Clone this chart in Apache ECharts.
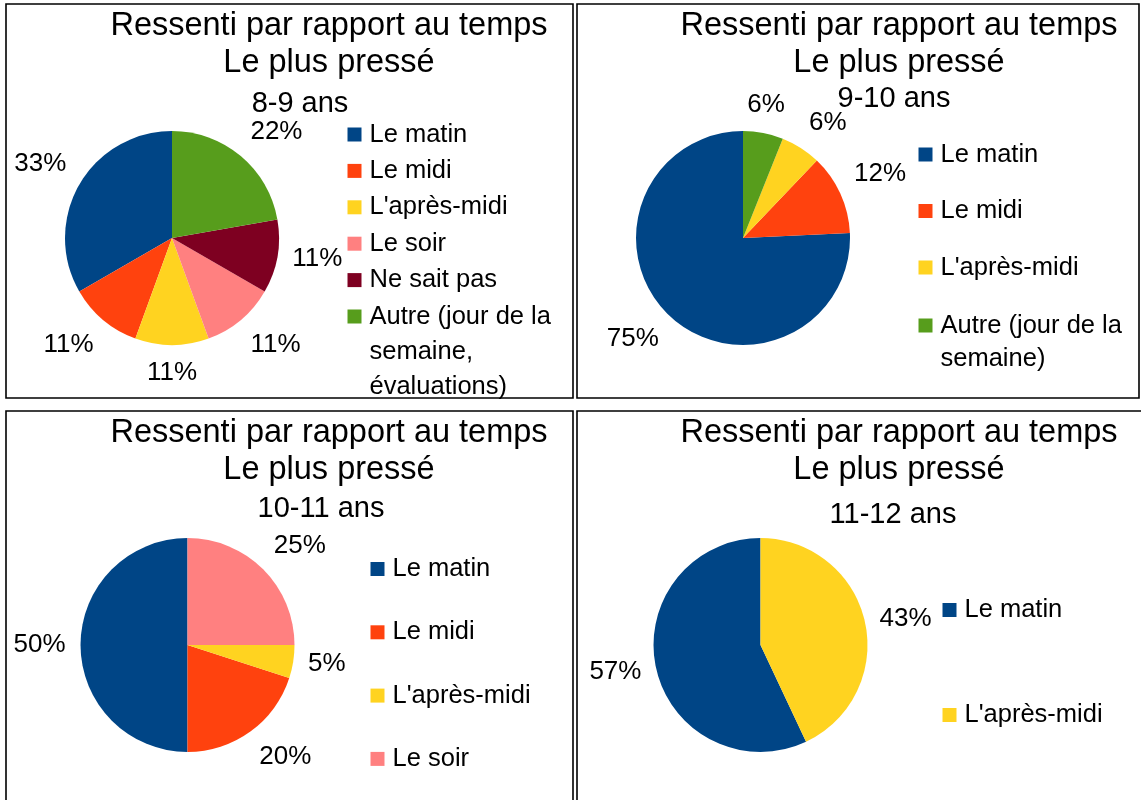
<!DOCTYPE html>
<html>
<head>
<meta charset="utf-8">
<title>Ressenti par rapport au temps</title>
<script src="https://cdn.jsdelivr.net/npm/echarts@6/dist/echarts.min.js"></script>
<style>
  html, body { margin: 0; padding: 0; background: #ffffff; }
  #chart { width: 1141px; height: 800px; }
</style>
</head>
<body>
<div id="chart"></div>
<script>
// ---- Data -------------------------------------------------------------
const titleLines = ['Ressenti par rapport au temps', 'Le plus pressé'];
const ageGroups = ['8-9 ans', '9-10 ans', '10-11 ans', '11-12 ans'];

const categories8to9 = ['Le matin', 'Le midi', "L'après-midi", 'Le soir', 'Ne sait pas',
  'Autre (jour de la semaine, évaluations)'];
const values8to9 = [33, 11, 11, 11, 11, 22];

const categories9to10 = ['Le matin', 'Le midi', "L'après-midi", 'Autre (jour de la semaine)'];
const values9to10 = [75, 12, 6, 6];

const categories10to11 = ['Le matin', 'Le midi', "L'après-midi", 'Le soir'];
const values10to11 = [50, 20, 5, 25];

const categories11to12 = ['Le matin', "L'après-midi"];
const values11to12 = [57, 43];

// ---- Styling ----------------------------------------------------------
const FONT = 'Liberation Sans, Arial, sans-serif';
const sliceColors = {
  'Le matin': '#004586',
  'Le midi': '#ff420e',
  "L'après-midi": '#ffd320',
  'Le soir': '#ff8080',
  'Ne sait pas': '#7e0021',
  'Autre (jour de la semaine, évaluations)': '#579d1c',
  'Autre (jour de la semaine)': '#579d1c'
};
// line breaks used for long legend entries
const legendWrap = {
  'Autre (jour de la semaine, évaluations)': ['Autre (jour de la', 'semaine,', 'évaluations)'],
  'Autre (jour de la semaine)': ['Autre (jour de la', 'semaine)']
};

const RADIUS = 107;
const LABEL_GAP = 15;
const KEY = 14;          // legend colour key size

// panel layout: frame, pie centre, title centre, subtitle position,
// legend left edge, first key centre, key spacing, text line height, wrapped key centre
const panels = [
  { cats: categories8to9, vals: values8to9, age: ageGroups[0],
    frame: [6, 4, 567, 394], center: [172, 238], titleX: 329, titleTop: 8,
    subX: 300, subY: 104,
    legendLeft: 347.5, keyY: 134.5, keyStep: 36.4, lineH: 35, wrapY: 316.5 },
  { cats: categories9to10, vals: values9to10, age: ageGroups[1],
    frame: [577, 4, 562, 394], center: [743, 238], titleX: 899, titleTop: 8,
    subX: 894, subY: 99,
    legendLeft: 918.5, keyY: 154.5, keyStep: 56.5, lineH: 33, wrapY: 325.5 },
  { cats: categories10to11, vals: values10to11, age: ageGroups[2],
    frame: [6, 411, 567, 400], center: [187.5, 645], titleX: 329, titleTop: 415,
    subX: 321, subY: 509,
    legendLeft: 370.5, keyY: 569, keyStep: 63.3, lineH: 35, wrapY: null },
  { cats: categories11to12, vals: values11to12, age: ageGroups[3],
    frame: [577, 411, 620, 400], center: [760.5, 645], titleX: 899, titleTop: 415,
    subX: 893, subY: 515,
    legendLeft: 942.5, keyY: 610, keyStep: 105, lineH: 35, wrapY: null }
];

// Places each percentage just outside its slice, the way office charts do:
// box centred above/below/beside the slice near the axes, corner-anchored otherwise.
function outsideLabel(panel) {
  const total = panel.vals.reduce((a, b) => a + b, 0);
  return function (p) {
    let before = 0;
    for (let k = 0; k < p.dataIndex; k++) before += panel.vals[k];
    const midDeg = 90 + (before + panel.vals[p.dataIndex] / 2) / total * 360;
    const a = ((midDeg % 360) + 360) % 360;
    const rad = midDeg * Math.PI / 180;
    const dx = Math.cos(rad), dy = -Math.sin(rad);
    let sx, sy;
    if (a <= 22.5 || a >= 337.5) { sx = 1; sy = 0; }
    else if (a >= 67.5 && a <= 112.5) { sx = 0; sy = -1; }
    else if (a >= 157.5 && a <= 202.5) { sx = -1; sy = 0; }
    else if (a >= 247.5 && a <= 292.5) { sx = 0; sy = 1; }
    else { sx = Math.sign(dx); sy = Math.sign(dy); }
    const R = RADIUS + LABEL_GAP;
    const w = p.labelRect.width, h = p.labelRect.height;
    return {
      x: panel.center[0] + dx * R + sx * w / 2,
      y: panel.center[1] + dy * R + sy * h / 2,
      align: 'center',
      verticalAlign: 'middle'
    };
  };
}

const titles = [];
const legends = [];
const series = [];
const frames = [];

panels.forEach(function (panel) {
  frames.push({
    type: 'rect',
    shape: { x: panel.frame[0], y: panel.frame[1], width: panel.frame[2], height: panel.frame[3] },
    style: { fill: 'none', stroke: '#000000', lineWidth: 1.6 },
    silent: true
  });

  titles.push({
    text: titleLines.join('\n'),
    left: panel.titleX, top: panel.titleTop,
    textAlign: 'center', textVerticalAlign: 'top', padding: 0,
    textStyle: { fontFamily: FONT, fontSize: 32.5, fontWeight: 'normal', color: '#000', lineHeight: 37 }
  });
  titles.push({
    text: panel.age,
    left: panel.subX, top: panel.subY,
    textAlign: 'center', textVerticalAlign: 'middle', padding: 0,
    textStyle: { fontFamily: FONT, fontSize: 29, fontWeight: 'normal', color: '#000' }
  });

  const plain = panel.cats.filter(c => !legendWrap[c]);
  const wrapped = panel.cats.filter(c => legendWrap[c]);
  const legendBase = {
    orient: 'vertical', padding: 0, icon: 'rect',
    itemWidth: KEY, itemHeight: KEY, selectedMode: false,
    textStyle: { fontFamily: FONT, fontSize: 25.5, color: '#000', lineHeight: panel.lineH, padding: [0, 0, 0, 3] }
  };
  legends.push(Object.assign({}, legendBase, {
    left: panel.legendLeft,
    top: panel.keyY - panel.lineH / 2,
    itemGap: panel.keyStep - panel.lineH,
    data: plain
  }));
  wrapped.forEach(function (name) {
    const lines = legendWrap[name];
    // blank lines above keep the first text line level with the colour key
    const pad = new Array(lines.length - 1).fill('').join('\n');
    legends.push(Object.assign({}, legendBase, {
      left: panel.legendLeft,
      top: panel.wrapY - (2 * lines.length - 1) * panel.lineH / 2,
      data: [name],
      formatter: function () { return (lines.length > 1 ? pad + '\n' : '') + lines.join('\n'); }
    }));
  });

  series.push({
    type: 'pie',
    center: panel.center,
    radius: RADIUS,
    startAngle: 90,
    clockwise: false,
    avoidLabelOverlap: false,
    emphasis: { disabled: true },
    itemStyle: { borderWidth: 0 },
    label: {
      show: true, position: 'outside', formatter: '{c}%',
      fontFamily: FONT, fontSize: 26, color: '#000', lineHeight: 24
    },
    labelLine: { show: false },
    labelLayout: outsideLabel(panel),
    data: panel.cats.map((c, i) => ({ name: c, value: panel.vals[i], itemStyle: { color: sliceColors[c] } }))
  });
});

const chart = echarts.init(document.getElementById('chart'), null, { renderer: 'canvas' });
chart.setOption({
  backgroundColor: '#ffffff',
  animation: false,
  title: titles,
  legend: legends,
  graphic: frames,
  series: series
});
</script>
</body>
</html>
